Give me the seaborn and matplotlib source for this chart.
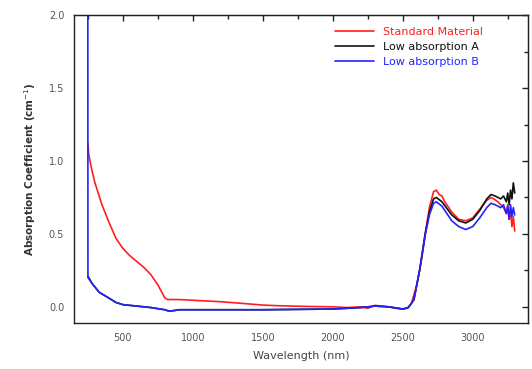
import numpy as np
import pandas as pd
import matplotlib
matplotlib.use("Agg")
import matplotlib.pyplot as plt
import seaborn as sns
from matplotlib.ticker import MultipleLocator, NullFormatter

# wavelength (nm) / absorption (cm^-1)
std_wl = [250, 255, 275, 300, 350, 400, 450, 500, 550, 600, 650, 700, 750, 800, 820,
          900, 1000, 1200, 1400, 1500, 1600, 1800, 2000, 2100, 2200, 2250, 2300, 2400,
          2450, 2500, 2530, 2560, 2600, 2630, 2660, 2690, 2720, 2740, 2760, 2780, 2800,
          2850, 2900, 2950, 3000, 3050, 3100, 3130, 3150, 3180, 3200, 3220, 3240, 3250,
          3260, 3270, 3280, 3290, 3300]
std_abs = [1.12, 1.05, 0.95, 0.85, 0.70, 0.58, 0.47, 0.40, 0.35, 0.31, 0.27, 0.22, 0.15, 0.06, 0.05,
           0.05, 0.045, 0.035, 0.02, 0.012, 0.008, 0.003, 0.0, -0.005, 0.0, -0.01, 0.01, 0.0,
           -0.01, -0.015, -0.01, 0.02, 0.15, 0.30, 0.50, 0.68, 0.79, 0.80, 0.77, 0.76, 0.72,
           0.65, 0.60, 0.59, 0.61, 0.67, 0.73, 0.75, 0.74, 0.72, 0.70, 0.68, 0.64, 0.70,
           0.60, 0.66, 0.55, 0.62, 0.52]

a_wl = [250, 280, 330, 400, 450, 500, 600, 700, 800, 830, 870, 900, 1200, 1500, 2000,
        2100, 2200, 2300, 2400, 2500, 2540, 2580, 2620, 2660, 2690, 2720, 2740, 2780,
        2850, 2900, 2950, 3000, 3050, 3100, 3130, 3160, 3200, 3220, 3240, 3250, 3260,
        3270, 3280, 3290, 3300]
a_abs = [0.21, 0.16, 0.10, 0.06, 0.03, 0.015, 0.005, -0.005, -0.02, -0.03, -0.025, -0.02, -0.02, -0.02, -0.015,
         -0.01, -0.005, 0.005, 0.0, -0.015, -0.005, 0.05, 0.25, 0.50, 0.65, 0.74, 0.75, 0.72,
         0.63, 0.59, 0.575, 0.60, 0.66, 0.74, 0.77, 0.76, 0.74, 0.76, 0.72, 0.78, 0.70,
         0.80, 0.74, 0.85, 0.78]

b_wl = [249, 250, 280, 330, 400, 450, 500, 600, 700, 800, 830, 870, 900, 1200, 1500, 2000,
        2100, 2200, 2300, 2400, 2500, 2540, 2580, 2620, 2660, 2690, 2720, 2740, 2780,
        2850, 2900, 2950, 3000, 3050, 3100, 3130, 3160, 3200, 3220, 3240, 3250, 3260,
        3270, 3280, 3290, 3300]
b_abs = [2.5, 0.20, 0.16, 0.10, 0.06, 0.03, 0.015, 0.005, -0.005, -0.02, -0.03, -0.025, -0.02, -0.02, -0.02, -0.015,
         -0.01, -0.005, 0.005, 0.0, -0.015, -0.005, 0.05, 0.25, 0.49, 0.63, 0.71, 0.72, 0.69,
         0.59, 0.55, 0.53, 0.55, 0.61, 0.68, 0.71, 0.70, 0.68, 0.70, 0.64, 0.69, 0.60,
         0.70, 0.62, 0.68, 0.63]

labels = ["Standard Material", "Low absorption A", "Low absorption B"]
colors = ["#ff1f1f", "#111111", "#2323ff"]

df = pd.concat([
    pd.DataFrame({"wl": std_wl, "abs": std_abs, "sample": labels[0]}),
    pd.DataFrame({"wl": a_wl, "abs": a_abs, "sample": labels[1]}),
    pd.DataFrame({"wl": b_wl, "abs": b_abs, "sample": labels[2]}),
])

sns.set_style("white")
plt.rcParams["font.family"] = ["DejaVu Sans"]

fig = plt.figure(figsize=(5.32, 3.69), dpi=100)
ax = fig.add_axes([0.139, 0.125, 0.853, 0.834])

sns.lineplot(data=df, x="wl", y="abs", hue="sample", palette=dict(zip(labels, colors)),
             estimator=None, sort=False, linewidth=1.2, ax=ax)

ax.set_xlim(150, 3393)
ax.set_ylim(-0.11, 2.0)
for axis, step in ((ax.xaxis, 500), (ax.yaxis, 0.5)):
    axis.set_major_locator(MultipleLocator(step))
    axis.set_minor_locator(MultipleLocator(step / 2))
ax.yaxis.set_major_formatter(matplotlib.ticker.FormatStrFormatter("%.1f"))

for s in ax.spines.values():
    s.set_color("#222222")
    s.set_linewidth(1.0)
ax.tick_params(which="both", direction="inout", colors="#222222", labelcolor="#555555",
               labelsize=7)
ax.tick_params(which="major", length=7, width=1.0)
ax.tick_params(which="minor", length=5, width=1.0)

# top and right ticks point inward only
top = ax.secondary_xaxis("top")
right = ax.secondary_yaxis("right")
for sec, axis, step in ((top, top.xaxis, 500), (right, right.yaxis, 0.5)):
    axis.set_major_locator(MultipleLocator(step))
    axis.set_minor_locator(MultipleLocator(step / 2))
    axis.set_major_formatter(NullFormatter())
    sec.tick_params(which="both", direction="in", colors="#222222", width=1.0)
    sec.tick_params(which="major", length=4)
    sec.tick_params(which="minor", length=3)

ax.set_xlabel("Wavelength (nm)", fontsize=8, color="#444444", labelpad=6)
ax.set_ylabel("Absorption Coefficient (cm$^{-1}$)", fontsize=7.5, color="#333333",
              fontweight="bold", labelpad=8)

leg = ax.legend(loc="upper left", bbox_to_anchor=(0.565, 0.975), frameon=False, fontsize=8,
                handlelength=3.5, labelspacing=0.45, borderaxespad=0.0, labelcolor="linecolor")

fig.savefig("out.png", dpi=100)
